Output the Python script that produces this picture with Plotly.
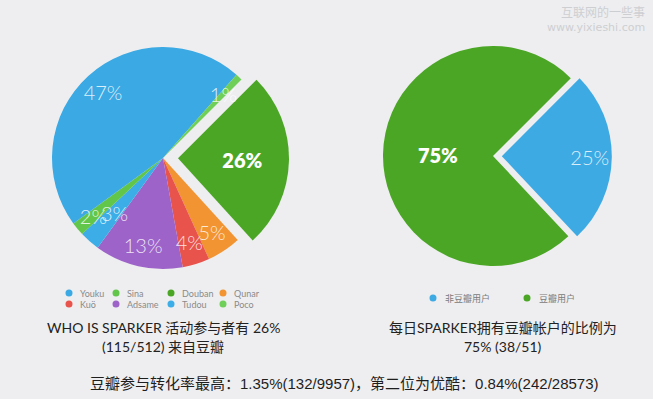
import plotly.graph_objects as go

W, H = 653, 399

# ---------------- data ----------------
# left pie, slices listed clockwise starting from the pulled-out Douban slice
left_labels = ["Douban", "Qunar", "Kuö", "Adsame", "Tudou", "Sina", "Youku", "Poco"]
left_values = [26, 5, 4, 13, 3, 2, 47, 1]
# legend order (two rows)
legend_rows = [["Youku", "Sina", "Douban", "Qunar"],
               ["Kuö", "Adsame", "Tudou", "Poco"]]

# right pie
right_labels = ["非豆瓣用户", "豆瓣用户"]
right_values = [13, 38]

left_title = ["WHO IS SPARKER 活动参与者有 26%", "(115/512) 来自豆瓣"]
right_title = ["每日SPARKER拥有豆瓣帐户的比例为", "75% (38/51)"]
bottom_text = "豆瓣参与转化率最高：1.35%(132/9957)，第二位为优酷：0.84%(242/28573)"
watermark = ["互联网的一些事", "www.yixieshi.com"]

# ---------------- styles ----------------
color_map = {
    "Youku": "#3ba9e3", "Sina": "#62c64b", "Douban": "#4ca626", "Qunar": "#f29431",
    "Kuö": "#e8534b", "Adsame": "#9d63c9", "Tudou": "#3cade6", "Poco": "#70cf58",
    "非豆瓣用户": "#3eaae4", "豆瓣用户": "#4ca626",
}
left_colors = [color_map[l] for l in left_labels]
right_colors = [color_map[l] for l in right_labels]
left_pull = [0.135 if l == "Douban" else 0 for l in left_labels]
right_pull = [0.08 if l == "非豆瓣用户" else 0 for l in right_labels]

bold_left = ["Douban"]
wide_left = ["Youku", "Adsame"]          # labels placed by an 'auto' ring
# narrow slices: label layer radius (px) used for horizontal placement
narrow_layer_r = {"Qunar": 103, "Kuö": 99, "Sina": 96, "Poco": 91, "Tudou": 80}

LCX, LCY = 163, 158   # left pie centre (px)
RCX, RCY = 493, 156   # right pie centre (px)


def px(x):
    return x / W


def py(y):
    return 1 - y / H


def dom(cx, cy, half):
    return dict(x=[px(cx - half), px(cx + half)], y=[py(cy + half), py(cy - half)])


def pos(labels, chosen):
    return ["inside" if l in chosen else "none" for l in labels]


LIGHT = "rgba(255,255,255,0.82)"
CLEAR = "rgba(0,0,0,0)"
thin_font = dict(family="Lato", size=20, color=LIGHT, weight=300)
bold_font = dict(family="Lato", size=20, color="white", weight=800)
common = dict(sort=False, direction="clockwise", rotation=45, showlegend=False)

fig = go.Figure()

# left main pie (slices + bold label of the pulled slice)
fig.add_trace(go.Pie(
    labels=left_labels, values=left_values, pull=left_pull,
    marker=dict(colors=left_colors, line=dict(width=0)),
    texttemplate="%{value}%", textposition=pos(left_labels, bold_left),
    insidetextorientation="horizontal", insidetextfont=bold_font,
    domain=dom(LCX, LCY, 111 * 1.135), hoverinfo="label+percent", **common,
))
# left label ring for the wide slices
fig.add_trace(go.Pie(
    labels=left_labels, values=left_values, hole=0.548,
    marker=dict(colors=[CLEAR] * len(left_labels), line=dict(width=0)),
    texttemplate="%{value}%", textposition=pos(left_labels, wide_left),
    insidetextorientation="auto", insidetextfont=thin_font,
    domain=dom(LCX, LCY, 115), hoverinfo="skip", **common,
))
# left label layers for the narrow slices
for rad in sorted(set(narrow_layer_r.values())):
    chosen = [l for l, v in narrow_layer_r.items() if v == rad]
    fig.add_trace(go.Pie(
        labels=left_labels, values=left_values,
        marker=dict(colors=[CLEAR] * len(left_labels), line=dict(width=0)),
        texttemplate="%{value}%", textposition=pos(left_labels, chosen),
        insidetextorientation="horizontal", insidetextfont=thin_font,
        domain=dom(LCX, LCY, rad), hoverinfo="skip", **common,
    ))

# right main pie
fig.add_trace(go.Pie(
    labels=right_labels, values=right_values, pull=right_pull,
    marker=dict(colors=right_colors, line=dict(width=0)),
    texttemplate="%{percent:.0%}", textposition=pos(right_labels, ["豆瓣用户"]),
    insidetextorientation="auto", insidetextfont=bold_font,
    domain=dom(RCX, RCY, 110 * 1.08), hoverinfo="label+percent", **common,
))
# right label ring
fig.add_trace(go.Pie(
    labels=right_labels, values=right_values, hole=0.53, pull=[0.0765, 0],
    marker=dict(colors=[CLEAR] * 2, line=dict(width=0)),
    texttemplate="%{percent:.0%}", textposition=pos(right_labels, ["非豆瓣用户"]),
    insidetextorientation="auto", insidetextfont=thin_font,
    domain=dom(RCX, RCY, 115 * 1.0765), hoverinfo="skip", **common,
))

annotations = []
shapes = []

# legend for left pie
left_cols = [69, 116, 171, 223]
left_rows_y = [293, 304]
for r, row in enumerate(legend_rows):
    for c, name in enumerate(row):
        cx, cy = left_cols[c], left_rows_y[r]
        shapes.append(dict(type="circle", xref="paper", yref="paper",
                           x0=px(cx - 3.5), x1=px(cx + 3.5), y0=py(cy + 3.5), y1=py(cy - 3.5),
                           fillcolor=color_map[name], line=dict(width=0)))
        annotations.append(dict(text=name, x=px(cx + 9), y=py(cy), xref="paper", yref="paper",
                                xanchor="left", yanchor="middle", showarrow=False,
                                font=dict(family="Lato, Noto Sans CJK SC", size=9, color="#8a8a8a")))

# legend for right pie
right_cols = [433, 527]
for c, name in enumerate(right_labels):
    cx, cy = right_cols[c], 298
    shapes.append(dict(type="circle", xref="paper", yref="paper",
                       x0=px(cx - 3.5), x1=px(cx + 3.5), y0=py(cy + 3.5), y1=py(cy - 3.5),
                       fillcolor=color_map[name], line=dict(width=0)))
    annotations.append(dict(text=name, x=px(cx + 10), y=py(cy), xref="paper", yref="paper",
                            xanchor="left", yanchor="middle", showarrow=False,
                            font=dict(family="Noto Sans CJK SC", size=9, color="#7a7a7a")))

title_font = dict(family="Lato, Noto Sans CJK SC", size=14, color="#222222")
for i, t in enumerate(left_title):
    annotations.append(dict(text=t, x=px(163), y=py(327 + 19 * i), xref="paper", yref="paper",
                            xanchor="center", yanchor="middle", showarrow=False, font=title_font))
for i, t in enumerate(right_title):
    annotations.append(dict(text=t, x=px(503), y=py(327 + 19 * i), xref="paper", yref="paper",
                            xanchor="center", yanchor="middle", showarrow=False, font=title_font))

annotations.append(dict(text=bottom_text, x=px(344), y=py(383), xref="paper", yref="paper",
                        xanchor="center", yanchor="middle", showarrow=False,
                        font=dict(family="Liberation Sans, Noto Sans CJK SC", size=15, color="#1e1e1e")))

annotations.append(dict(text=watermark[0], x=px(647), y=py(11.5), xref="paper", yref="paper",
                        xanchor="right", yanchor="middle", showarrow=False,
                        font=dict(family="Noto Sans CJK SC", size=12, color="#cdced2")))
annotations.append(dict(text=watermark[1], x=px(647), y=py(27), xref="paper", yref="paper",
                        xanchor="right", yanchor="middle", showarrow=False,
                        font=dict(family="DejaVu Sans", size=11, color="#cdced2")))

fig.update_layout(
    width=W, height=H, margin=dict(l=0, r=0, t=0, b=0),
    paper_bgcolor="#eeeef0", plot_bgcolor="#eeeef0",
    showlegend=False,
    uniformtext=dict(minsize=20, mode="show"),
    annotations=annotations, shapes=shapes,
)

fig.write_html(
    "out.html",
    config={"displayModeBar": False},
    post_script="document.body.style.margin='0px';document.body.style.overflow='hidden';",
)
